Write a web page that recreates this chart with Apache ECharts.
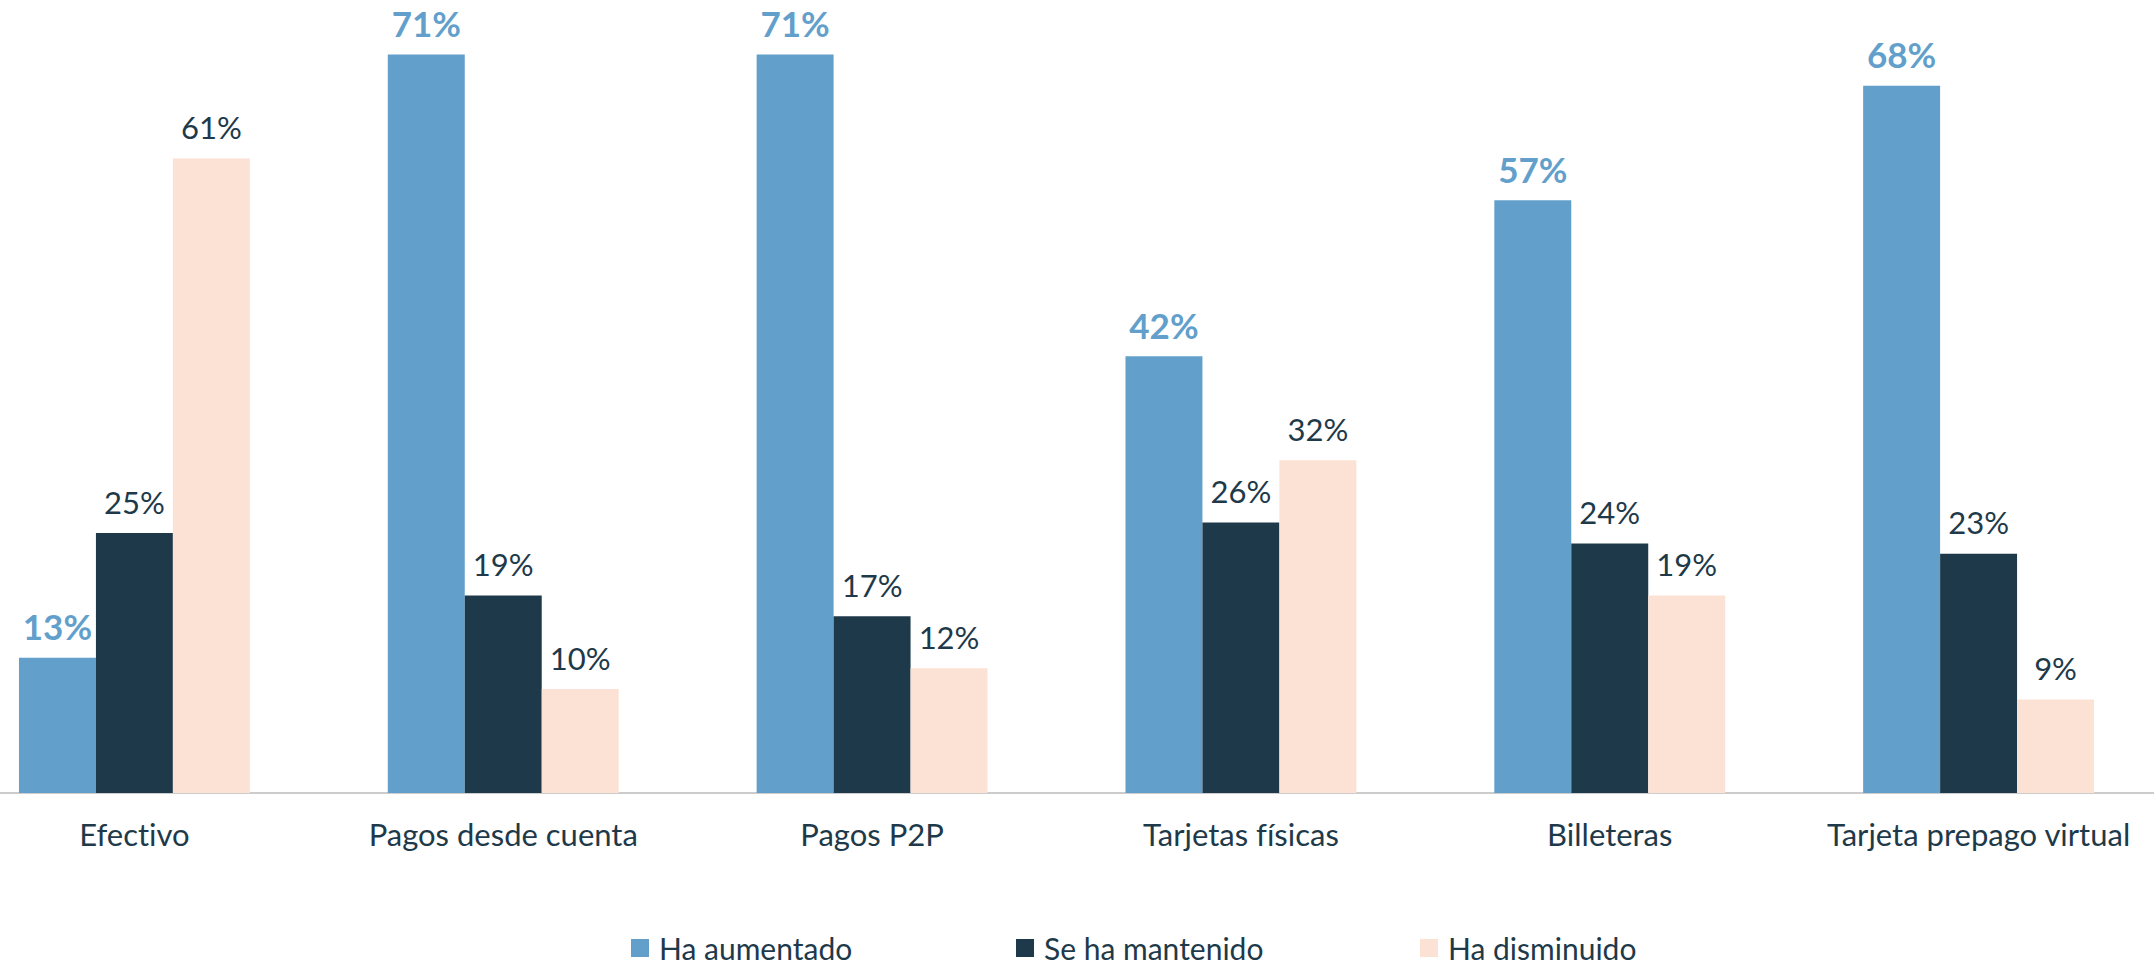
<!DOCTYPE html>
<html>
<head>
<meta charset="utf-8">
<script src="https://cdn.jsdelivr.net/npm/echarts@6/dist/echarts.min.js"></script>
<style>
html,body{margin:0;padding:0;background:#fff;overflow:hidden;width:2154px;height:967px;}
#chart{position:absolute;left:-50px;top:0;width:2213px;height:967px;}
#chart text{font-variant-ligatures:none;font-feature-settings:"liga" 0,"dlig" 0,"clig" 0;}
</style>
</head>
<body>
<div id="chart"></div>
<script>
const categories = ['Efectivo', 'Pagos desde cuenta', 'Pagos P2P', 'Tarjetas físicas', 'Billeteras', 'Tarjeta prepago virtual'];
const seriesNames = ['Ha aumentado', 'Se ha mantenido', 'Ha disminuido'];
const aumentado = [13, 71, 71, 42, 57, 68];
const mantenido = [25, 19, 17, 26, 24, 23];
const disminuido = [61, 10, 12, 32, 19, 9];

const FONT = 'Lato, "Open Sans", sans-serif';
const TEXT = '#1E3A4A';
const colors = ['#62A0CB', '#1E3A4A', '#FCE2D5'];

const chart = echarts.init(document.getElementById('chart'), null, {renderer: 'svg'});

function mkSeries(name, data, idx) {
  const bold = idx === 0;
  return {
    name: name,
    type: 'bar',
    data: data,
    barGap: '0%',
    barCategoryGap: '37.4%',
    itemStyle: {color: colors[idx]},
    label: {
      show: true,
      position: 'top',
      distance: bold ? 14 : 16,
      formatter: '{c}%',
      fontFamily: FONT,
      fontSize: bold ? 35 : 31,
      fontWeight: bold ? 'bold' : 'normal',
      color: bold ? colors[0] : TEXT
    },
    emphasis: {disabled: true},
    animation: false
  };
}

// legend item left positions (chart-div coordinates)
const legendX = [681, 1066, 1470];

chart.setOption({
  animation: false,
  grid: {left: 0, right: 0, top: 13, bottom: 174, containLabel: false},
  xAxis: {
    type: 'category',
    data: categories,
    axisLine: {lineStyle: {color: '#CCCCCC', width: 2}},
    axisTick: {show: false},
    axisLabel: {interval: 0, fontFamily: FONT, fontSize: 31, color: TEXT, margin: 25}
  },
  yAxis: {
    type: 'value',
    min: 0,
    max: 75,
    show: false,
    splitLine: {show: false}
  },
  legend: seriesNames.map((n, i) => ({
    data: [n],
    left: legendX[i],
    top: 933,
    padding: 0,
    itemWidth: 18,
    itemHeight: 18,
    itemGap: 0,
    icon: 'rect',
    textStyle: {fontFamily: FONT, fontSize: 30, color: TEXT, padding: [0, 0, 0, 5]},
    selectedMode: false
  })),
  series: [
    mkSeries(seriesNames[0], aumentado, 0),
    mkSeries(seriesNames[1], mantenido, 1),
    mkSeries(seriesNames[2], disminuido, 2)
  ]
});
</script>
</body>
</html>
